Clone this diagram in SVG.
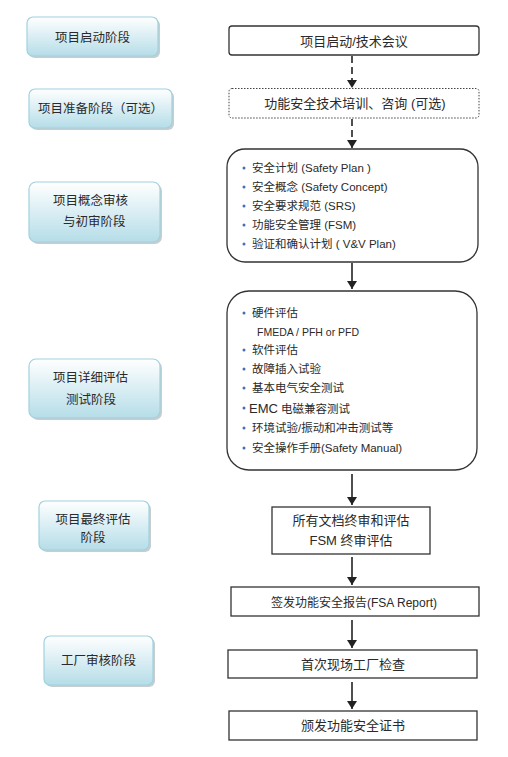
<svg xmlns="http://www.w3.org/2000/svg" width="508" height="757" viewBox="0 0 508 757">
<defs>
<linearGradient id="stage" x1="0" y1="0" x2="0" y2="1">
<stop offset="0" stop-color="#ffffff"/>
<stop offset="1" stop-color="#b5dde8"/>
</linearGradient>
<marker id="ah" viewBox="0 0 8 10" refX="8" refY="5" markerWidth="8" markerHeight="10" markerUnits="userSpaceOnUse" orient="auto">
<path d="M0,0 L8,5 L0,10 Z" fill="#222"/>
</marker>
</defs>
<style>
text{font-family:"Liberation Sans","Noto Sans CJK SC",sans-serif;fill:#2a2a2a;}
.st{font-size:12.5px;text-anchor:middle;}
.stl{font-size:12.5px;}
.stage-shadow{fill:#9aa4a8;opacity:0.55;}
.stage{fill:url(#stage);stroke:#9fd2e0;stroke-width:1.2;}
.box{fill:#ffffff;stroke:#333;stroke-width:1.3;}
.dot{fill:#ffffff;stroke:#444;stroke-width:1;stroke-dasharray:1.5 1.5;}
.t{font-size:13px;text-anchor:middle;}
.li{font-size:11.5px;}
.b{fill:#4a6cb3;}
.c{stroke:#222;stroke-width:1.6;fill:none;marker-end:url(#ah);}
.d{stroke-dasharray:7 4;}
</style>

<g id="stage1">
<rect class="stage-shadow" x="29" y="19" width="131" height="39" rx="6"/>
<rect class="stage" x="27" y="17" width="131" height="39" rx="6"/>
<text class="st" x="92.5" y="41.5">项目启动阶段</text>
</g>
<g id="stage2">
<rect class="stage-shadow" x="31" y="91" width="143" height="39" rx="6"/>
<rect class="stage" x="29" y="89" width="143" height="39" rx="6"/>
<text class="st" x="100.5" y="113">项目准备阶段（可选）</text>
</g>
<g id="stage3">
<rect class="stage-shadow" x="31" y="184" width="131" height="60" rx="7"/>
<rect class="stage" x="29" y="182" width="131" height="60" rx="7"/>
<text class="stl" x="53" y="205">项目概念审核</text>
<text class="stl" x="63" y="226">与初审阶段</text>
</g>
<g id="stage4">
<rect class="stage-shadow" x="31" y="361" width="131" height="59" rx="7"/>
<rect class="stage" x="29" y="359" width="131" height="59" rx="7"/>
<text class="stl" x="53" y="382">项目详细评估</text>
<text class="stl" x="66" y="404">测试阶段</text>
</g>
<g id="stage5">
<rect class="stage-shadow" x="41" y="503" width="110" height="49" rx="6"/>
<rect class="stage" x="39" y="501" width="110" height="49" rx="6"/>
<text class="st" x="93" y="524">项目最终评估</text>
<text class="st" x="93" y="542">阶段</text>
</g>
<g id="stage6">
<rect class="stage-shadow" x="46" y="638" width="109" height="49" rx="6"/>
<rect class="stage" x="44" y="636" width="109" height="49" rx="6"/>
<text class="st" x="98.5" y="665">工厂审核阶段</text>
</g>

<g id="step1">
<rect class="box" x="229" y="26" width="250" height="29" rx="3"/>
<text class="t" x="354" y="45.5">项目启动/技术会议</text>
</g>
<g id="step2">
<rect class="dot" x="229" y="88.5" width="250" height="29.5" rx="3"/>
<text class="t" x="355" y="107.5">功能安全技术培训、咨询 (可选)</text>
</g>
<g id="step3">
<rect class="box" x="227" y="149" width="251" height="113" rx="18"/>
<circle class="b" cx="244" cy="168" r="1.5"/>
<text class="li" x="252" y="172">安全计划 (Safety Plan )</text>
<circle class="b" cx="244" cy="187" r="1.5"/>
<text class="li" x="252" y="191">安全概念 (Safety Concept)</text>
<circle class="b" cx="244" cy="206" r="1.5"/>
<text class="li" x="252" y="210">安全要求规范 (SRS)</text>
<circle class="b" cx="244" cy="225" r="1.5"/>
<text class="li" x="252" y="229">功能安全管理 (FSM)</text>
<circle class="b" cx="244" cy="244" r="1.5"/>
<text class="li" x="252" y="248">验证和确认计划 ( V&amp;V Plan)</text>
</g>
<g id="step4">
<rect class="box" x="227" y="291" width="250" height="179" rx="22"/>
<circle class="b" cx="244" cy="313" r="1.5"/>
<text class="li" x="252" y="317">硬件评估</text>
<text class="li" x="257" y="336" style="font-size:10.5px">FMEDA / PFH or PFD</text>
<circle class="b" cx="244" cy="350" r="1.5"/>
<text class="li" x="252" y="354">软件评估</text>
<circle class="b" cx="244" cy="369" r="1.5"/>
<text class="li" x="252" y="373">故障插入试验</text>
<circle class="b" cx="244" cy="388" r="1.5"/>
<text class="li" x="252" y="392">基本电气安全测试</text>
<circle class="b" cx="244" cy="408" r="1.5"/>
<text class="li" x="249" y="412.5"><tspan style="font-size:13px">EMC</tspan> 电磁兼容测试</text>
<circle class="b" cx="244" cy="428" r="1.5"/>
<text class="li" x="252" y="432">环境试验/振动和冲击测试等</text>
<circle class="b" cx="244" cy="448" r="1.5"/>
<text class="li" x="252" y="452">安全操作手册(Safety Manual)</text>
</g>
<g id="step5">
<rect class="box" x="272" y="507" width="158" height="47"/>
<text class="t" x="351" y="525">所有文档终审和评估</text>
<text class="t" x="351" y="545">FSM 终审评估</text>
</g>
<g id="step6">
<rect class="box" x="231" y="587" width="248" height="29"/>
<text class="t" x="354" y="606.5" style="font-size:12px">签发功能安全报告(FSA Report)</text>
</g>
<g id="step7">
<rect class="box" x="228" y="650" width="249" height="28"/>
<text class="t" x="353" y="668.5">首次现场工厂检查</text>
</g>
<g id="step8">
<rect class="box" x="229" y="711" width="248" height="29"/>
<text class="t" x="353" y="730">颁发功能安全证书</text>
</g>

<g id="connectors">
<line class="c d" x1="352" y1="56" x2="352" y2="88"/>
<line class="c d" x1="352" y1="119" x2="352" y2="148"/>
<line class="c" x1="352" y1="263" x2="352" y2="289"/>
<line class="c" x1="352" y1="474" x2="352" y2="505"/>
<line class="c" x1="352" y1="557" x2="352" y2="585"/>
<line class="c" x1="352" y1="620" x2="352" y2="648"/>
<line class="c" x1="352" y1="682" x2="352" y2="709"/>
</g>
</svg>
